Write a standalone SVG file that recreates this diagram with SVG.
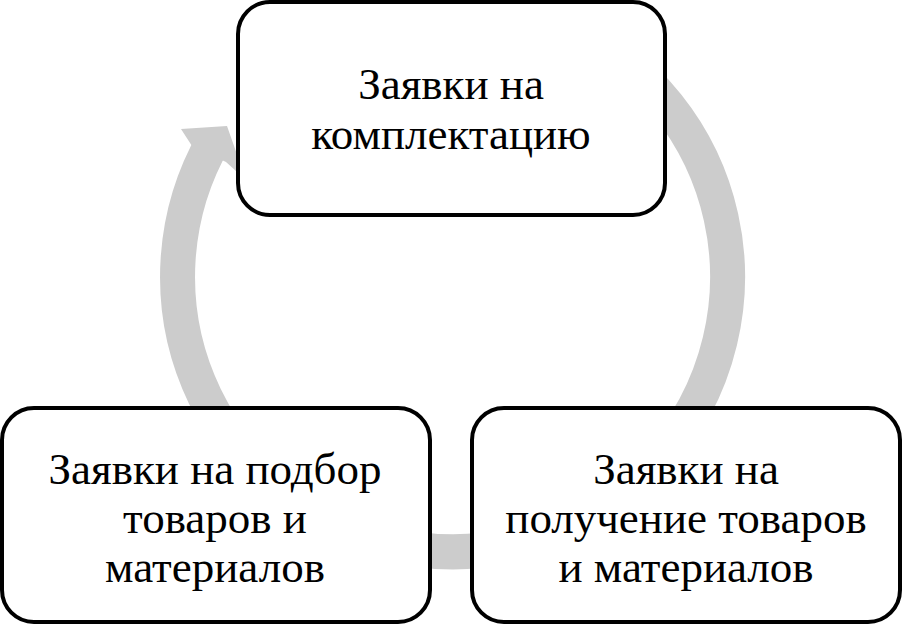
<svg xmlns="http://www.w3.org/2000/svg" width="905" height="625" viewBox="0 0 905 625">
<style>
.box{fill:#fff;stroke:#000;stroke-width:4}
.t{font-family:"Liberation Serif","Times New Roman",serif;font-size:45px;text-anchor:middle;fill:#000}
</style>
<rect width="905" height="625" fill="#fff"/>
<g id="connectors">
<path d="M300,48 A275,275 0 1,1 214,140" fill="none" stroke="#cccccc" stroke-width="35"/>
<polygon points="181,129 227,126 246,180 226,162 192,146" fill="#cccccc"/>
</g>
<g id="n1"><rect class="box" x="238" y="2" width="427" height="213" rx="32"/>
<text class="t" x="451" y="99">Заявки на</text><text class="t" x="451" y="149">комплектацию</text></g>
<g id="n2"><rect class="box" x="2" y="408" width="428" height="214" rx="32"/>
<text class="t" x="215" y="484">Заявки на подбор</text><text class="t" x="215" y="533">товаров и</text><text class="t" x="215" y="582">материалов</text></g>
<g id="n3"><rect class="box" x="472" y="408" width="428" height="214" rx="32"/>
<text class="t" x="686" y="484">Заявки на</text><text class="t" x="686" y="533">получение товаров</text><text class="t" x="686" y="582">и материалов</text></g>
</svg>
